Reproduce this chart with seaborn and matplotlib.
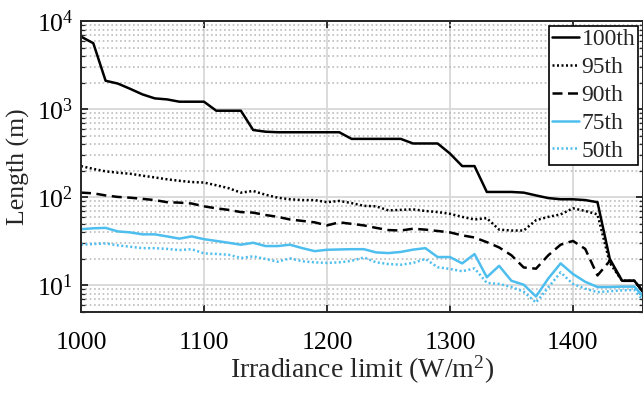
import matplotlib
matplotlib.use("Agg")
import matplotlib.pyplot as plt
import matplotlib.ticker as mticker
import seaborn as sns
import pandas as pd

irradiance = [1000, 1010, 1020, 1030, 1040, 1050, 1060, 1070, 1080, 1090,
              1100, 1110, 1120, 1130, 1140, 1150, 1160, 1170, 1180, 1190,
              1200, 1210, 1220, 1230, 1240, 1250, 1260, 1270, 1280, 1290,
              1300, 1310, 1320, 1330, 1340, 1350, 1360, 1370, 1380, 1390,
              1400, 1410, 1420, 1430, 1440, 1450, 1460]

p100 = [6650, 5600, 2100, 1950, 1700, 1470, 1325, 1290, 1215, 1215,
        1215, 960, 960, 960, 580, 555, 547, 547, 547, 547,
        547, 547, 460, 460, 460, 460, 460, 408, 408, 408,
        314, 226, 226, 115, 115, 115, 113, 105, 98, 95,
        95, 93, 88, 20, 11.3, 11.3, 7.5]

p95 = [226, 210, 197, 190, 185, 176, 168, 160, 154, 149,
       147, 137, 127, 113, 118, 107, 99, 95, 93, 93,
       88, 91, 86, 80, 79, 71, 72, 73, 70, 68,
       65, 60, 56, 58, 43, 42, 42, 55, 60, 64,
       75, 70, 64, 18, 11.3, 11.3, 7.5]

p90 = [113, 111, 105, 101, 99, 96, 93, 88, 87, 85,
       79, 75, 72, 68, 67, 63, 60, 56, 54, 52,
       48, 52, 50, 48, 45, 42.5, 42, 44, 43, 41.5,
       40, 37, 35, 31, 27, 22, 16, 15.5, 22, 29,
       32, 26, 13, 19, 11.3, 11.3, 7.5]

p75 = [43.5, 44.5, 45, 41, 40, 38, 38, 36, 34, 36,
       33.5, 32, 30.5, 29, 30.5, 28, 28, 29, 26.5, 24.5,
       25.4, 25.6, 25.8, 25.8, 23.7, 23.3, 24, 25.5, 26.5, 21,
       21, 17.8, 22.7, 12.4, 16.7, 11.3, 10.2, 7.5, 12, 17.8,
       13.5, 11, 9.6, 9.6, 9.7, 9.7, 6.8]

p50 = [29, 29.5, 30, 28.5, 27.5, 26.5, 26.5, 26, 25.2, 25.8,
       23.1, 22.8, 22.3, 20.5, 21.4, 20, 18.6, 20.3, 18.8, 18.3,
       18, 18.3, 19, 20.8, 18.3, 17.5, 17.2, 18, 20, 16.1,
       15.4, 14.5, 15.6, 10.7, 10.4, 9.6, 8.5, 6.4, 9.5, 14.1,
       10.4, 9.2, 8.4, 8.6, 8.8, 8.9, 6]

labels = ["100th", "95th", "90th", "75th", "50th"]
series = [p100, p95, p90, p75, p50]
x_ticks = [1000, 1100, 1200, 1300, 1400]

sns.set_style("ticks")
plt.rcParams["font.family"] = ["Liberation Serif", "DejaVu Serif"]
plt.rcParams["mathtext.fontset"] = "custom"
plt.rcParams["mathtext.rm"] = "Liberation Serif"
plt.rcParams["mathtext.it"] = "Liberation Serif:italic"
plt.rcParams["mathtext.default"] = "rm"

blue = "#4DBEEE"
styles = [
    dict(color="black", linestyle="-"),
    dict(color="black", linestyle=(0, (0.8, 1.0))),
    dict(color="black", linestyle=(0, (4, 2.2))),
    dict(color=blue, linestyle="-"),
    dict(color=blue, linestyle=(0, (0.8, 1.0))),
]

fig = plt.figure(figsize=(6.43, 3.94), dpi=100)
ax = fig.add_axes([81 / 643, 82 / 394, (643 - 81) / 643, (312 - 21) / 394])

for lab, vals, st in zip(labels, series, styles):
    df = pd.DataFrame({"x": irradiance, "y": vals})
    sns.lineplot(data=df, x="x", y="y", ax=ax, label=lab, linewidth=1.8, **st)

ax.set_yscale("log")
ax.set_xlim(1000, 1457)
ax.set_ylim(5, 1e4)
ax.set_xticks(x_ticks)
ax.set_xticklabels([str(v) for v in x_ticks])
ax.yaxis.set_major_locator(mticker.LogLocator(base=10, numticks=10))
ax.yaxis.set_minor_locator(mticker.LogLocator(base=10, subs=range(2, 10), numticks=20))
ax.yaxis.set_minor_formatter(mticker.NullFormatter())

ax.grid(True, which="major", axis="both", color="#d8d8d8", linewidth=1.3, linestyle="-")
ax.grid(True, which="minor", axis="y", color="#bcbcbc", linewidth=1.2, linestyle=(0, (1, 1.6)))
ax.set_axisbelow(True)

ax.tick_params(axis="both", which="major", direction="in", length=5, width=1.1,
               top=True, right=True, labelsize=18.5, colors="black")
ax.tick_params(axis="y", which="minor", direction="in", length=3, width=0.9,
               right=True, left=True)
ax.tick_params(axis="x", which="major", pad=14.5)
ax.tick_params(axis="y", which="major", pad=5.5)
for s in ax.spines.values():
    s.set_linewidth(1.4)
    s.set_color("#262626")

ax.set_xlabel("Irradiance limit (W/m$^2$)", fontsize=20, labelpad=0)
ax.set_ylabel("Length (m)", fontsize=18.5, labelpad=5)

leg = ax.legend(loc="upper right", fontsize=17, frameon=True, fancybox=False,
                edgecolor="black", framealpha=1, handlelength=1.15, handletextpad=0.12,
                labelspacing=0.27, borderpad=0.12, borderaxespad=0.2)
leg.get_frame().set_linewidth(1.2)

fig.savefig("out.png", dpi=100)
